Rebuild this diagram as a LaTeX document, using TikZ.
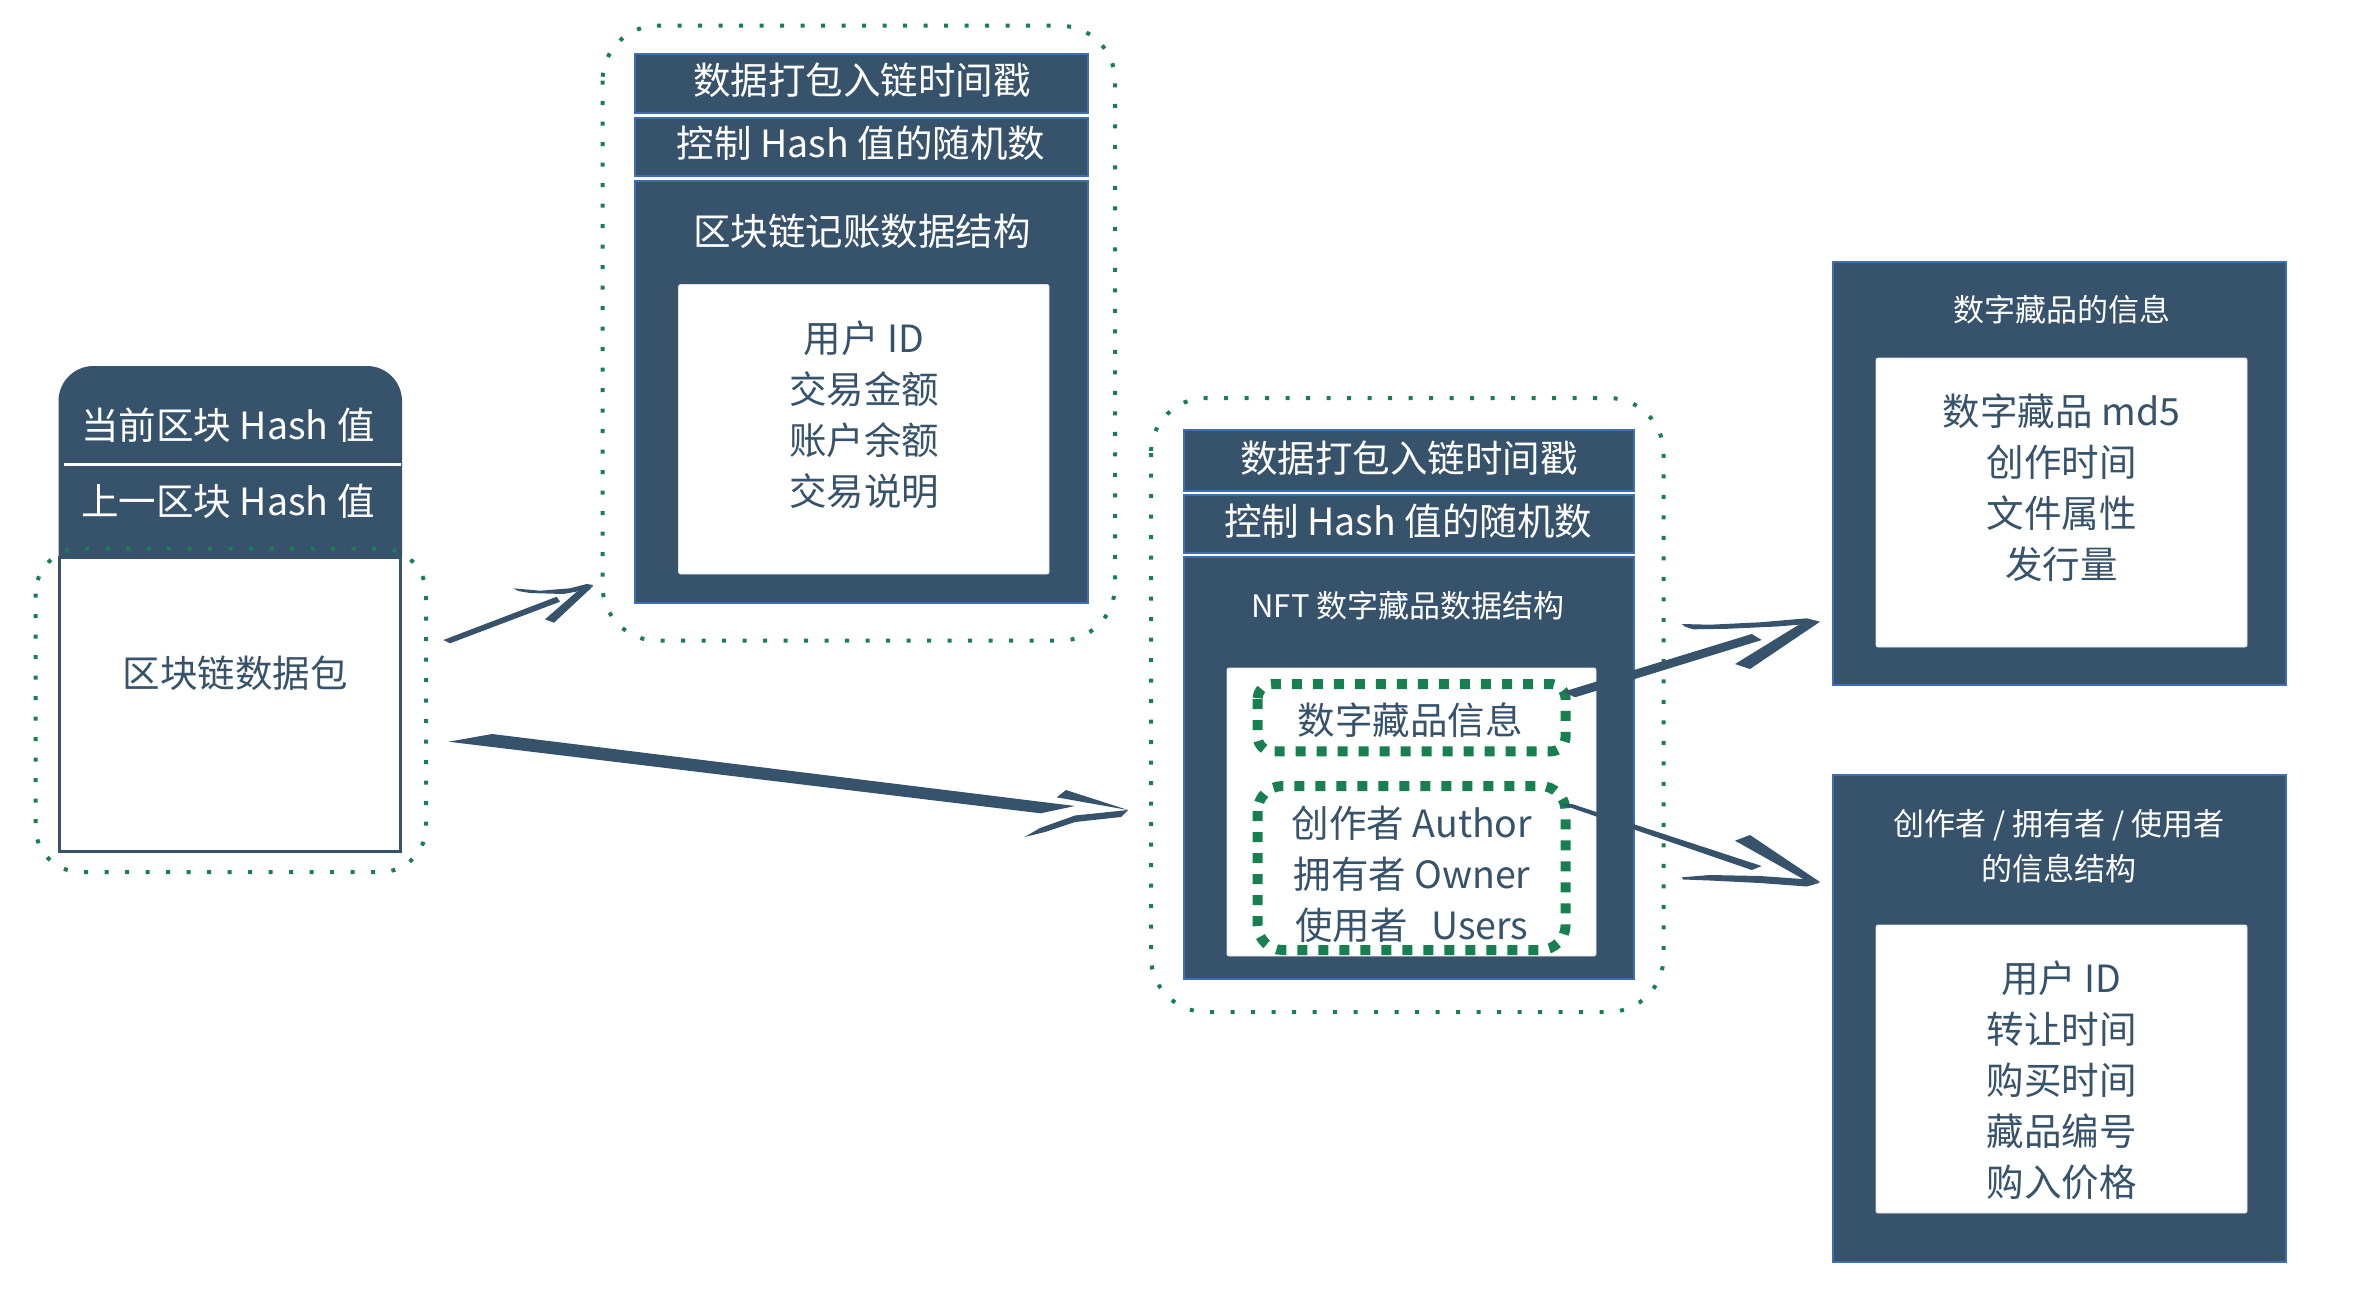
\documentclass[tikz,border=0pt]{standalone}
\usepackage{fontspec}
\setmainfont{Noto Sans CJK SC}
\definecolor{dk}{HTML}{37536B}
\definecolor{bl}{HTML}{3F6DB3}
\definecolor{gr}{HTML}{188050}
\newcommand\myfA{\fontsize{37.5pt}{51pt}\selectfont}
\newcommand\myfB{\fontsize{31pt}{45pt}\selectfont}
\tikzset{
  darkbox/.style={fill=dk, draw=bl, line width=2pt},
  whitebox/.style={fill=white, draw=white!85!dk, line width=0.8pt, rounded corners=2pt},
  wtxt/.style={text=white, inner sep=0pt, align=center},
  dtxt/.style={text=dk, inner sep=0pt, align=center},
  dotthin/.style={draw=gr, line width=4pt, dash pattern=on 4pt off 16.5pt},
  dotthick/.style={draw=gr, line width=10pt, dash pattern=on 10pt off 11pt},
  arrowpart/.style={fill=dk},
}
\begin{document}
\begin{tikzpicture}[x=1pt, y=-1pt]
\useasboundingbox (0,0) rectangle (2356,1294);

% ---------- left block ----------
\fill[dk] (58.5,557) -- (58.5,401) arc[start angle=180,end angle=270,radius=35]
  -- (367,366) arc[start angle=270,end angle=360,radius=35] -- (402,557) -- cycle;
\draw[white, line width=3pt] (64,464) -- (401,464);
\draw[dk, line width=3pt, fill=white] (59.5,557) rectangle (400.5,851);
\node[wtxt, font=\myfA] (lh1) at (228,425) {当前区块 Hash 值};
\node[wtxt, font=\myfA] (lh2) at (228,501) {上一区块 Hash 值};
\node[dtxt, font=\myfA] (lpk) at (235,673) {区块链数据包};
\draw[dotthin, rounded corners=45pt] (35.6,548.6) rectangle (426,872);

% ---------- middle block ----------
\path[darkbox] (635,53.5) rectangle (1087.5,113);
\path[darkbox] (635,117.5) rectangle (1087.5,176);
\path[darkbox] (635,180.5) rectangle (1087.5,603);
\path[whitebox] (678.6,284.5) rectangle (1049,574);
\node[wtxt, font=\myfA] (m1) at (862,80) {数据打包入链时间戳};
\node[wtxt, font=\myfA] (m2) at (861,143) {控制 Hash 值的随机数};
\node[wtxt, font=\myfA] (m3) at (862,231.5) {区块链记账数据结构};
\node[dtxt, font=\myfA] (m4) at (864,415) {用户 ID\\交易金额\\账户余额\\交易说明};
\draw[dotthin, rounded corners=55pt] (602.5,25.7) rectangle (1115,640.7);

% ---------- NFT block ----------
\path[darkbox] (1183.5,430) rectangle (1634,490.5);
\path[darkbox] (1183.5,494.5) rectangle (1634,553);
\path[darkbox] (1183.5,557) rectangle (1634,979);
\path[whitebox] (1227,668) rectangle (1596,956);
\node[wtxt, font=\myfA] (n1) at (1409,458) {数据打包入链时间戳};
\node[wtxt, font=\myfA] (n2) at (1408,521) {控制 Hash 值的随机数};
\node[wtxt, font=\myfB] (n3) at (1408,606) {NFT 数字藏品数据结构};
\draw[dotthick, rounded corners=15pt] (1257.6,684) rectangle (1565.6,751.4);
\draw[dotthick, rounded corners=25pt] (1257.6,786) rectangle (1565.6,950);
\node[dtxt, font=\myfA] (n4) at (1410,720) {数字藏品信息};
\node[dtxt, font=\myfA] (n5) at (1412,874.5) {创作者 Author\\拥有者 Owner\\使用者\hspace{0.4em} Users};
\draw[dotthin, rounded corners=55pt] (1151,398) rectangle (1663.5,1012);

% ---------- right blocks ----------
\path[darkbox] (1833,262) rectangle (2285.5,684.5);
\path[whitebox] (1876,358) rectangle (2247,647);
\node[wtxt, font=\myfB] (r1t) at (2061.5,310) {数字藏品的信息};
\node[dtxt, font=\myfA] (r1c) at (2061.5,487.75) {数字藏品 md5\\创作时间\\文件属性\\发行量};
\path[darkbox] (1833,775) rectangle (2285.5,1262);
\path[whitebox] (1876,925) rectangle (2247,1213);
\node[wtxt, font=\myfB] (r2t) at (2059,846) {创作者 / 拥有者 / 使用者\\的信息结构};
\node[dtxt, font=\myfA] (r2c) at (2061.5,1080) {用户 ID\\转让时间\\购买时间\\藏品编号\\购入价格};

% ---------- arrows (sketch style) ----------
% arrow 1: left block -> middle block
\fill[arrowpart] (443.3,640) -- (556.7,596.7) -- (560,601.7) -- (450,643.3) -- cycle;
\fill[arrowpart] (513.3,588.3) -- (540,590.7) -- (570,588.3) -- (586.7,584) -- (593.3,585)
  -- (586.7,589.8) -- (563.3,594) -- (530,593) -- (518.3,591) -- cycle;
\fill[arrowpart] (593.3,586) -- (554,622.7) -- (545,619.3) -- (576.7,591.7) -- cycle;
% arrow 2: left block -> NFT block
\fill[arrowpart] (448.4,741.7) -- (492.2,734) -- (1075,806) -- (1040.6,813.3) -- cycle;
\fill[arrowpart] (1066,790) -- (1128,810) -- (1056.7,797.3) -- cycle;
\fill[arrowpart] (1128,810) -- (1075,815.5) -- (1040,828) -- (1024.5,837) -- (1045,832)
  -- (1075,822) -- (1121,817) -- cycle;
% arrow 3: NFT info -> right top
\fill[arrowpart] (1563.3,691.7) -- (1751.7,634) -- (1761.7,640) -- (1575,697.3) -- cycle;
\fill[arrowpart] (1681.7,624) -- (1710,624.7) -- (1760,622.3) -- (1806.7,618.3) -- (1820,621.7)
  -- (1813.3,623.5) -- (1776.7,626.5) -- (1726.7,628.8) -- (1693.3,629.3) -- (1685,626.7) -- cycle;
\fill[arrowpart] (1820,621.7) -- (1750,669) -- (1735,664) -- (1800,624) -- cycle;
% arrow 4: NFT users -> right bottom
\fill[arrowpart] (1560,804) -- (1572,804) -- (1761.7,866) -- (1751.7,870) -- cycle;
\fill[arrowpart] (1681.7,877.3) -- (1710,875) -- (1760,876) -- (1806.7,879.3) -- (1820,882.7)
  -- (1806.7,886.5) -- (1760,883) -- (1710,880.5) -- (1683.3,879.5) -- cycle;
\fill[arrowpart] (1735,840.7) -- (1750,835) -- (1820,882) -- (1806.7,881) -- cycle;
\end{tikzpicture}
\end{document}
